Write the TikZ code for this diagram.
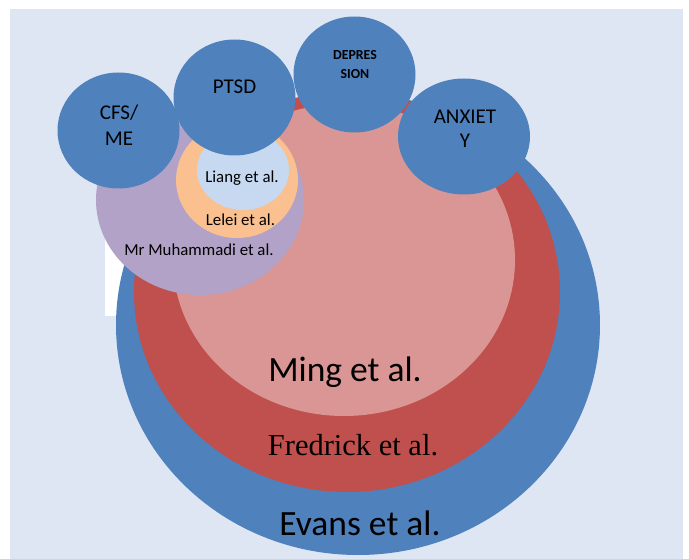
\documentclass[tikz,border=0pt]{standalone}
\usepackage{fontspec}
\setmainfont{Carlito}
\newfontfamily\tnr{Liberation Serif}
\definecolor{bgblue}{HTML}{DFE6F3}
\definecolor{obblue}{HTML}{4F81BD}
\definecolor{obred}{HTML}{C0504D}
\definecolor{obpink}{HTML}{D99694}
\definecolor{obpurple}{HTML}{B2A2C7}
\definecolor{oborange}{HTML}{FAC090}
\definecolor{oblight}{HTML}{C6D9F1}
\tikzset{
  lbl/.style={anchor=base, inner sep=0pt, text=black},
  smalllbl/.style={lbl, font=\fontsize{16.8}{19}\selectfont},
  biglbl/.style={lbl, font=\fontsize{35.5}{40}\selectfont},
  condlbl/.style={lbl, font=\fontsize{21}{24}\selectfont},
}
\begin{document}
\begin{tikzpicture}[x=1pt,y=-1pt]
\useasboundingbox (0,0) rectangle (689,559);
% background
\fill[bgblue] (10,9) rectangle (683,559);
\fill[white] (105,200) rectangle (200,316);
% nested ellipses
\fill[obblue] (358,325) ellipse [x radius=242pt, y radius=230pt];
\fill[obred] (347,292) ellipse [x radius=213pt, y radius=200pt];
\fill[obpink] (344,260) ellipse [x radius=171pt, y radius=156pt];
\fill[obpurple] (200,200) ellipse [x radius=104pt, y radius=95pt];
\fill[oborange] (237,180) ellipse [x radius=61pt, y radius=58pt];
\fill[oblight] (243,170) ellipse [x radius=46pt, y radius=40pt];
% condition circles
\fill[obblue] (118.5,130.5) ellipse [x radius=61pt, y radius=58pt];
\fill[obblue] (234.5,97.5) ellipse [x radius=61pt, y radius=58pt];
\fill[obblue] (354.5,74.5) ellipse [x radius=61pt, y radius=58pt];
\fill[obblue] (464,136.5) ellipse [x radius=66pt, y radius=58pt];
% labels
\node[condlbl] (cfs1) at (119,119.3) {CFS/};
\node[condlbl] (cfs2) at (119,145.7) {ME};
\node[condlbl] (ptsd) at (234.5,94) {PTSD};
\node[lbl, font=\fontsize{13.8}{16}\selectfont\bfseries] (dep1) at (355,60) {DEPRES};
\node[lbl, font=\fontsize{13.8}{16}\selectfont\bfseries] (dep2) at (355,78.3) {SION};
\node[condlbl] (anx1) at (465,124) {ANXIET};
\node[condlbl] (anx2) at (465,147.7) {Y};
\node[smalllbl] (liang) at (242,182.7) {Liang et al.};
\node[smalllbl] (lelei) at (240.5,226) {Lelei et al.};
\node[smalllbl] (muh) at (199,256) {Mr Muhammadi et al.};
\node[biglbl] (ming) at (345,381.7) {Ming et al.};
\node[lbl, font=\fontsize{30.5}{34}\selectfont\tnr] (fred) at (353,455.7) {Fredrick et al.};
\node[biglbl] (evans) at (360,535) {Evans et al.};
\end{tikzpicture}
\end{document}
